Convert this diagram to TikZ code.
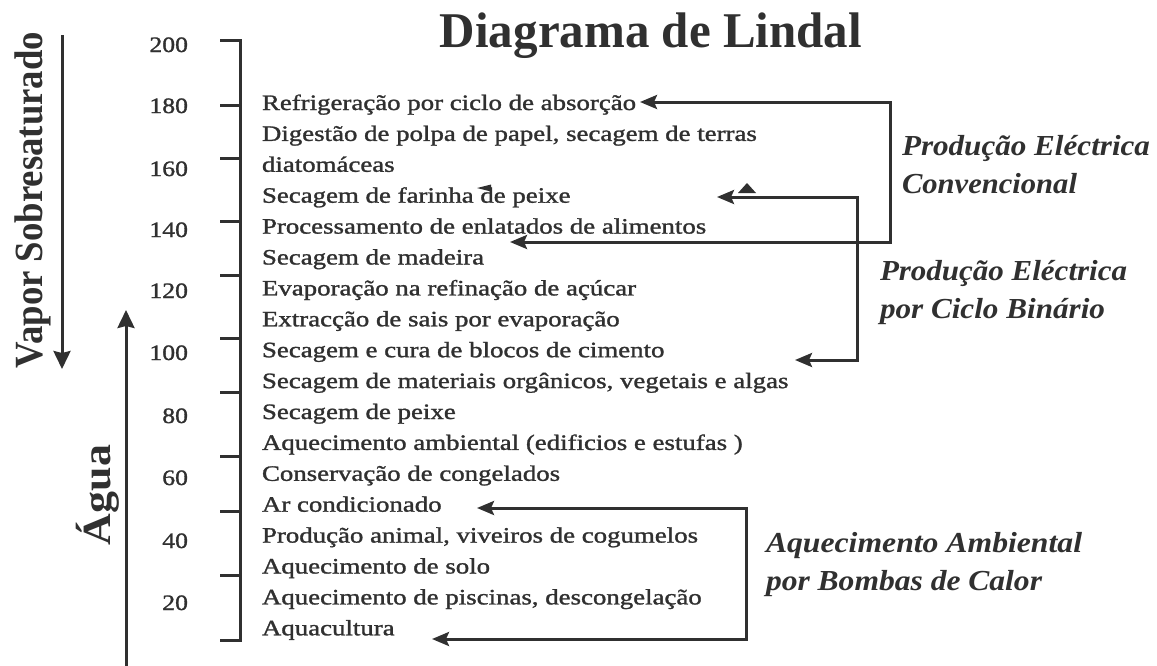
\documentclass[tikz,border=0pt]{standalone}
\usepackage{fontspec}
\setmainfont{Liberation Serif}
\newfontfamily\itemfont{Liberation Serif}[FakeBold=1.2]
\usepackage{graphicx}
\usetikzlibrary{arrows.meta}
\definecolor{ink}{HTML}{303030}
\newcommand{\hsc}[2]{\scalebox{#1}[1]{#2}}
\newcommand{\fitw}[2]{\resizebox{#1}{\height}{#2}}
\begin{document}
\begin{tikzpicture}[x=1pt,y=-1pt,
  every node/.style={inner sep=0pt,outer sep=0pt,text=ink},
  item/.style={anchor=base west,font=\fontsize{22}{26}\itemfont},
  numlab/.style={anchor=base east,font=\fontsize{22}{26}\itemfont},
  lab/.style={anchor=base west,font=\fontsize{29}{34}\selectfont\bfseries\itshape},
  ln/.style={draw=ink,line width=3pt},
  arr/.style={ln,line join=miter,{Stealth[length=17pt,width=14pt,inset=3pt]}-{Stealth[length=17pt,width=14pt,inset=3pt]}},
  bigarr/.style={ln,-{Stealth[length=18pt,width=17pt,inset=2pt]}}
]
\useasboundingbox (0,0) rectangle (1157,665);
\fill[white] (0,0) rectangle (1157,665);

% title
\node[anchor=base] (title) at (651,47) {\fitw{422pt}{\fontsize{50}{60}\selectfont\bfseries Diagrama de Lindal}};

% side texts and arrows
\node[rotate=90,anchor=base] (vapor) at (42,200) {\fitw{336pt}{\fontsize{40}{44}\selectfont\bfseries Vapor Sobresaturado}};
\node[rotate=90,anchor=base] (agua) at (110,495) {\fitw{100pt}{\fontsize{40}{44}\selectfont\bfseries Água}};
\coordinate (v0) at (62,35);
\coordinate (v1) at (62,369);
\draw[bigarr] (v0) -- (v1);
\coordinate (a0) at (126,668);
\coordinate (a1) at (126,310);
\draw[bigarr] (a0) -- (a1);

% scale bracket
\draw[ln,line cap=butt] (220,40) -- (240,40) -- (240,640) -- (220,640);
\foreach \yy in {105,158,221,275,338,392,456,511,575}
  \draw[ln] (220,\yy) -- (240,\yy);

% numbers
\foreach \v/\yy [count=\k] in {200/52,180/113,160/176,140/237,120/298,100/360,80/423,60/485,40/548,20/610}
  \node[numlab] (n\k) at (188,\yy) {\hsc{1.17}{\v}};

% items
\foreach \t [count=\i] in {
  {Refrigeração por ciclo de absorção},
  {Digestão de polpa de papel, secagem de terras},
  {diatomáceas},
  {Secagem de farinha de peixe},
  {Processamento de enlatados de alimentos},
  {Secagem de madeira},
  {Evaporação na refinação de açúcar},
  {Extracção de sais por evaporação},
  {Secagem e cura de blocos de cimento},
  {Secagem de materiais orgânicos, vegetais e algas},
  {Secagem de peixe},
  {Aquecimento ambiental (edificios e estufas )},
  {Conservação de congelados},
  {Ar condicionado},
  {Produção animal, viveiros de cogumelos},
  {Aquecimento de solo},
  {Aquecimento de piscinas, descongelação},
  {Aquacultura}}
  \node[item] (i\i) at (262,{110+30.9*(\i-1)}) {\hsc{1.22}{\t}};

% labels
\node[lab] (c1a) at (902,155) {\fitw{248pt}{Produção Eléctrica}};
\node[lab] (c1b) at (902,193) {\fitw{175pt}{Convencional}};
\node[lab] (c2a) at (880,280) {\fitw{247pt}{Produção Eléctrica}};
\node[lab] (c2b) at (880,318) {\fitw{225pt}{por Ciclo Binário}};
\node[lab] (c3a) at (766,552) {\fitw{316pt}{Aquecimento Ambiental}};
\node[lab] (c3b) at (766,590) {\fitw{276pt}{por Bombas de Calor}};

% conventional
\coordinate (p1) at (890,102);
\coordinate (p2) at (890,242);
\coordinate (t1) at (640,102);
\coordinate (t2) at (510,242);
\draw[arr] (t1) -- (p1) -- (p2) -- (t2);

% binary
\coordinate (q1) at (857,197);
\coordinate (q2) at (857,360);
\coordinate (s1) at (717,197);
\coordinate (s2) at (795,360);
\draw[arr] (s1) -- (q1) -- (q2) -- (s2);

% heat pumps
\coordinate (r1) at (746,508);
\coordinate (r2) at (746,639);
\coordinate (u1) at (477,508);
\coordinate (u2) at (432,639);
\draw[arr] (u1) -- (r1) -- (r2) -- (u2);

% scan marks
\fill[ink] (738,193) -- (756,193) -- (747,183) -- cycle;
\fill[ink] (477,188) -- (491,184.5) -- (491,191.5) -- cycle;
\end{tikzpicture}
\end{document}
